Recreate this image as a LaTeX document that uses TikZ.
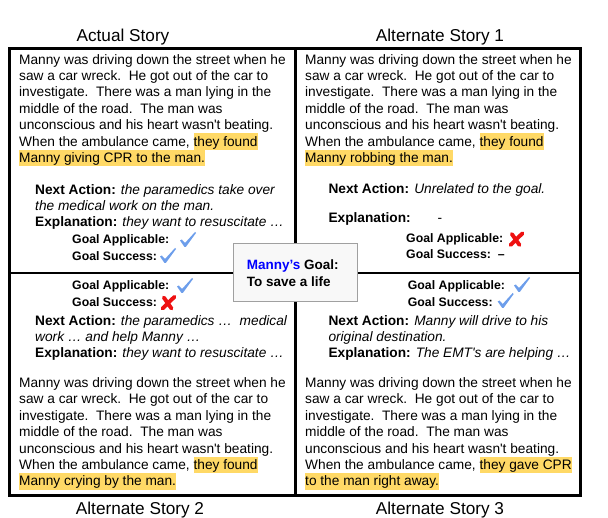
\documentclass[tikz,border=0pt]{standalone}
\usepackage{fontspec}
\setmainfont{Liberation Sans}
\definecolor{hly}{HTML}{FFD966}
\definecolor{chkblue}{HTML}{6D9EEB}
\definecolor{xred}{HTML}{EE1111}
\definecolor{mblue}{HTML}{0000FF}
\definecolor{boxfill}{HTML}{F8F8F8}
\definecolor{boxline}{HTML}{A0A0A0}
\newcommand\hlt[1]{{\setlength{\fboxsep}{0pt}\colorbox{hly}{\rule[-3.6pt]{0pt}{16.4pt}#1}}}
\newcommand\fstrut{\rule{0pt}{12.8pt}}
\newcommand\aq{\textquotesingle}
\begin{document}
\begin{tikzpicture}[x=1pt,y=-1pt,
  body/.style={inner sep=0pt, anchor=north west, align=left, font=\fontsize{13.7}{16.4}\selectfont},
  bodyline/.style={inner sep=0pt, anchor=base west, font=\fontsize{13.7}{16.4}\selectfont},
  goal/.style={inner sep=0pt, anchor=base west, font=\fontsize{12.3}{14}\selectfont\bfseries},
  storytitle/.style={inner sep=0pt, anchor=base, font=\fontsize{17.2}{20}\selectfont},
  outerframe/.style={line width=2.7pt},
  divider/.style={line width=2.3pt},
  goalbox/.style={draw=boxline, fill=boxfill, line width=1pt, inner sep=0pt},
  chk/.pic={\fill[chkblue] (0,8.5) -- (1.8,7.5) -- (5,11) -- (15,0) -- (16,1) -- (5.8,15) -- (4.5,15) -- cycle;},
  xmark/.pic={\draw[xred, line width=3.9pt, line cap=round] (2.5,13.5) -- (14.5,1.8) (3.8,2.5) -- (11.5,13.5);},
]
\useasboundingbox (0,0) rectangle (608,518);

% frame
\coordinate (tl) at (9.7,48.8);
\coordinate (br) at (580.5,495.5);
\coordinate (vt) at (295.5,48.8);
\coordinate (vb) at (295.5,495.5);
\coordinate (hl) at (9.7,272.8);
\coordinate (hr) at (580.5,272.8);
\draw[divider] (vt) -- (vb);
\draw[divider] (hl) -- (hr);
\draw[outerframe] (tl) rectangle (br);

% titles
\node[storytitle] (t0) at (123,41.5) {Actual Story};
\node[storytitle] (t1) at (440,41.5) {Alternate Story 1};
\node[storytitle] (t2) at (140,514.5) {Alternate Story 2};
\node[storytitle] (t3) at (440,514.5) {Alternate Story 3};

% top-left: actual story
\node[body] (s0) at (19,51.2) {\fstrut Manny was driving down the street when he\\saw a car wreck.\ \ He got out of the car to\\investigate.\ \ There was a man lying in the\\middle of the road.\ \ The man was\\unconscious and his heart wasn\aq t beating.\\When the ambulance came, \hlt{they found}\\\hlt{Manny giving CPR to the man.}};
\node[body] (n0) at (35,181.2) {\fstrut\textbf{Next Action:} \textit{the paramedics take over}\\\textit{the medical work on the man.}\\\textbf{Explanation:} \textit{they want to resuscitate …}};
\node[goal] (ga0) at (72,244) {Goal Applicable:};
\node[goal] (gs0) at (72,261) {Goal Success:};
\pic (c0a) at (180,232) {chk};
\pic (c0s) at (160,248) {chk};

% top-right: alternate story 1
\node[body] (s1) at (305,51.2) {\fstrut Manny was driving down the street when he\\saw a car wreck.\ \ He got out of the car to\\investigate.\ \ There was a man lying in the\\middle of the road.\ \ The man was\\unconscious and his heart wasn\aq t beating.\\When the ambulance came, \hlt{they found}\\\hlt{Manny robbing the man.}};
\node[bodyline] (n1) at (328.3,193.5) {\textbf{Next Action:} \textit{Unrelated to the goal.}};
\node[bodyline] (e1) at (328.3,223) {\textbf{Explanation:}};
\node[bodyline] (e1d) at (437.5,223) {-};
\node[goal] (ga1) at (406,242.7) {Goal Applicable:};
\node[goal] (gs1) at (406,258.5) {Goal Success:\ \ –};
\pic (x1a) at (508,231.5) {xmark};

% bottom-left: alternate story 2
\node[goal] (ga2) at (72,289.3) {Goal Applicable:};
\node[goal] (gs2) at (72,306.7) {Goal Success:};
\pic (c2a) at (177,278) {chk};
\pic (x2s) at (160,295) {xmark};
\node[body] (n2) at (35,312.2) {\fstrut\textbf{Next Action:} \textit{the paramedics …\ \ medical}\\\textit{work … and help Manny …}\\\textbf{Explanation:} \textit{they want to resuscitate …}};
\node[body] (s2) at (19,374.5) {\fstrut Manny was driving down the street when he\\saw a car wreck.\ \ He got out of the car to\\investigate.\ \ There was a man lying in the\\middle of the road.\ \ The man was\\unconscious and his heart wasn\aq t beating.\\When the ambulance came, \hlt{they found}\\\hlt{Manny crying by the man.}};

% bottom-right: alternate story 3
\node[goal] (ga3) at (407.7,289.3) {Goal Applicable:};
\node[goal] (gs3) at (407.7,306.7) {Goal Success:};
\pic (c3a) at (514,277) {chk};
\pic (c3s) at (497.7,293) {chk};
\node[body] (n3) at (328.3,312.2) {\fstrut\textbf{Next Action:} \textit{Manny will drive to his}\\\textit{original destination.}\\\textbf{Explanation:} \textit{The EMT\aq s are helping …}};
\node[body] (s3) at (305,374.5) {\fstrut Manny was driving down the street when he\\saw a car wreck.\ \ He got out of the car to\\investigate.\ \ There was a man lying in the\\middle of the road.\ \ The man was\\unconscious and his heart wasn\aq t beating.\\When the ambulance came, \hlt{they gave CPR}\\\hlt{to the man right away.}};

% central goal box
\node[goalbox, minimum width=124.5pt, minimum height=58pt] (gb) at (295.3,272.5) {};
\node[inner sep=0pt, anchor=north west, align=left, font=\fontsize{13.5}{17}\selectfont\bfseries] (gt) at (246.7,256.2) {\fstrut\textcolor{mblue}{Manny’s} Goal:\\To save a life};
\end{tikzpicture}
\end{document}
